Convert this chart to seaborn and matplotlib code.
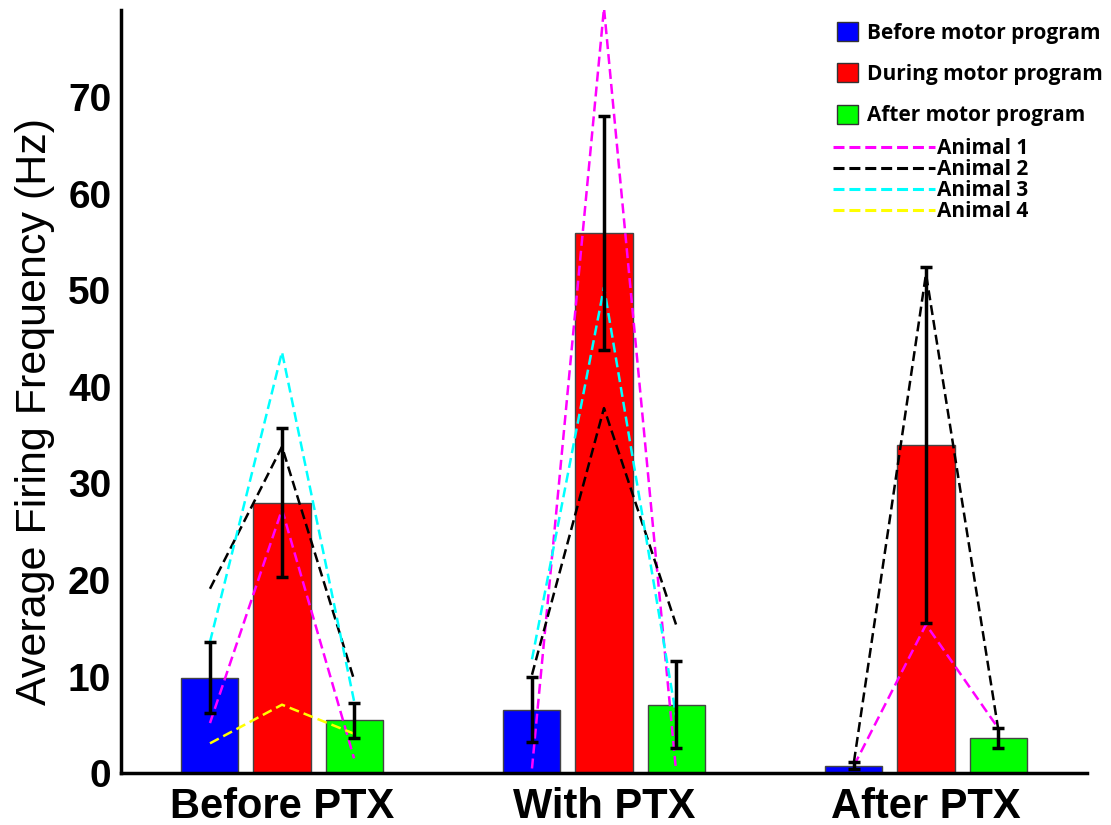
import numpy as np
import pandas as pd
import matplotlib
matplotlib.use("Agg")
import matplotlib.pyplot as plt
import seaborn as sns
from matplotlib.patches import Patch
from matplotlib.lines import Line2D

# ---- data ----
categories = ["Before PTX", "With PTX", "After PTX"]
phases = ["Before motor program", "During motor program", "After motor program"]
mean_before = [9.9, 6.6, 0.8]
mean_during = [28.0, 55.9, 34.0]
mean_after = [5.5, 7.1, 3.65]
err_before = [3.7, 3.4, 0.4]
err_during = [7.7, 12.1, 18.4]
err_after = [1.8, 4.5, 1.0]

animal_names = ["Animal 1", "Animal 2", "Animal 3", "Animal 4"]
# per condition: [before, during, after] motor program
animal1 = [[5.2, 27.3, 1.55], [0.5, 79.2, 0.3], [0.8, 15.4, 4.7]]
animal2 = [[19.1, 33.8, 9.7], [10.2, 37.8, 15.4], [1.2, 51.7, 4.7]]
animal3 = [[13.6, 43.6, 7.5], [11.8, 50.3, 6.0], [np.nan, np.nan, np.nan]]
animal4 = [[3.1, 7.1, 4.1], [np.nan, np.nan, np.nan], [np.nan, np.nan, np.nan]]

bar_colors = ["#0000ff", "#ff0000", "#00ff00"]
animal_colors = ["#ff00ff", "#000000", "#00ffff", "#ffff00"]

df = pd.DataFrame({
    "condition": categories * 3,
    "phase": [phases[0]] * 3 + [phases[1]] * 3 + [phases[2]] * 3,
    "rate": mean_before + mean_during + mean_after,
    "err": err_before + err_during + err_after,
})

sns.set_style("white")
plt.rcParams["font.family"] = ["Liberation Sans", "DejaVu Sans"]
for k in ["text.color", "axes.labelcolor", "xtick.color", "ytick.color"]:
    plt.rcParams[k] = "black"

fig = plt.figure(figsize=(11.11, 8.25), dpi=100)
ax = fig.add_axes([121 / 1111, 1 - 773.3 / 825, (1087 - 121) / 1111, (773.3 - 10) / 825])

sns.barplot(data=df, x="condition", y="rate", hue="phase", order=categories,
            hue_order=phases, palette=bar_colors, width=0.671, gap=0.208,
            edgecolor="#444444", linewidth=1.0, errorbar=None, legend=False,
            saturation=1, ax=ax)

# bar centre positions from the drawn bars
centers = np.array([[p.get_x() + p.get_width() / 2 for p in cont] for cont in ax.containers])  # phase x condition
errs = [err_before, err_during, err_after]
means = [mean_before, mean_during, mean_after]

animals = [animal1, animal2, animal3, animal4]
for a, col in zip(animals, animal_colors):
    for ci in range(3):
        xs = centers[:, ci]
        ax.plot(xs, a[ci], color=col, lw=1.8, ls="--", dashes=(4, 2), zorder=3)

for pi in range(3):
    ax.errorbar(centers[pi], means[pi], yerr=errs[pi], fmt="none", ecolor="black",
                elinewidth=2.5, capsize=4.5, capthick=2.5, zorder=4)

ax.set_xlim(-0.5, 2.5)
ax.set_ylim(0, 79)
ax.set_yticks([0, 10, 20, 30, 40, 50, 60, 70])
ax.set_xlabel("")
ax.set_ylabel("Average Firing Frequency (Hz)", fontsize=31, color="black")
ax.yaxis.set_label_coords(-0.068, 0.474)
for s in ["top", "right"]:
    ax.spines[s].set_visible(False)
for s in ["left", "bottom"]:
    ax.spines[s].set_linewidth(2.5)
    ax.spines[s].set_color("black")
ax.tick_params(axis="y", direction="in", length=8, width=2.5, pad=7, labelsize=28,
               colors="black")
ax.tick_params(axis="x", length=0, pad=10, labelsize=30, colors="black")
for t in ax.get_yticklabels() + ax.get_xticklabels():
    t.set_fontweight("bold")

leg_font = {"family": "Open Sans", "weight": "bold", "size": 15}
h1 = [Patch(facecolor=c, edgecolor="#333333", linewidth=1) for c in bar_colors]
leg1 = ax.legend(h1, phases, loc="upper left", bbox_to_anchor=(837 / 1111, 1 - 22 / 825),
                 bbox_transform=fig.transFigure, frameon=False, prop=leg_font,
                 handlelength=1.02, handleheight=1.02, handletextpad=0.4,
                 labelspacing=0.95, borderpad=0, borderaxespad=0, labelcolor="black")
ax.add_artist(leg1)
h2 = [Line2D([0], [0], color=c, lw=2.2, ls="--", dashes=(3.6, 1.6)) for c in animal_colors]
leg2 = ax.legend(h2, animal_names, loc="upper left", bbox_to_anchor=(833 / 1111, 1 - 138 / 825),
                 bbox_transform=fig.transFigure, frameon=False, prop=leg_font,
                 handlelength=4.9, handletextpad=0.1, labelspacing=0.0,
                 borderpad=0, borderaxespad=0, labelcolor="black")

fig.savefig("out.png", dpi=100)
